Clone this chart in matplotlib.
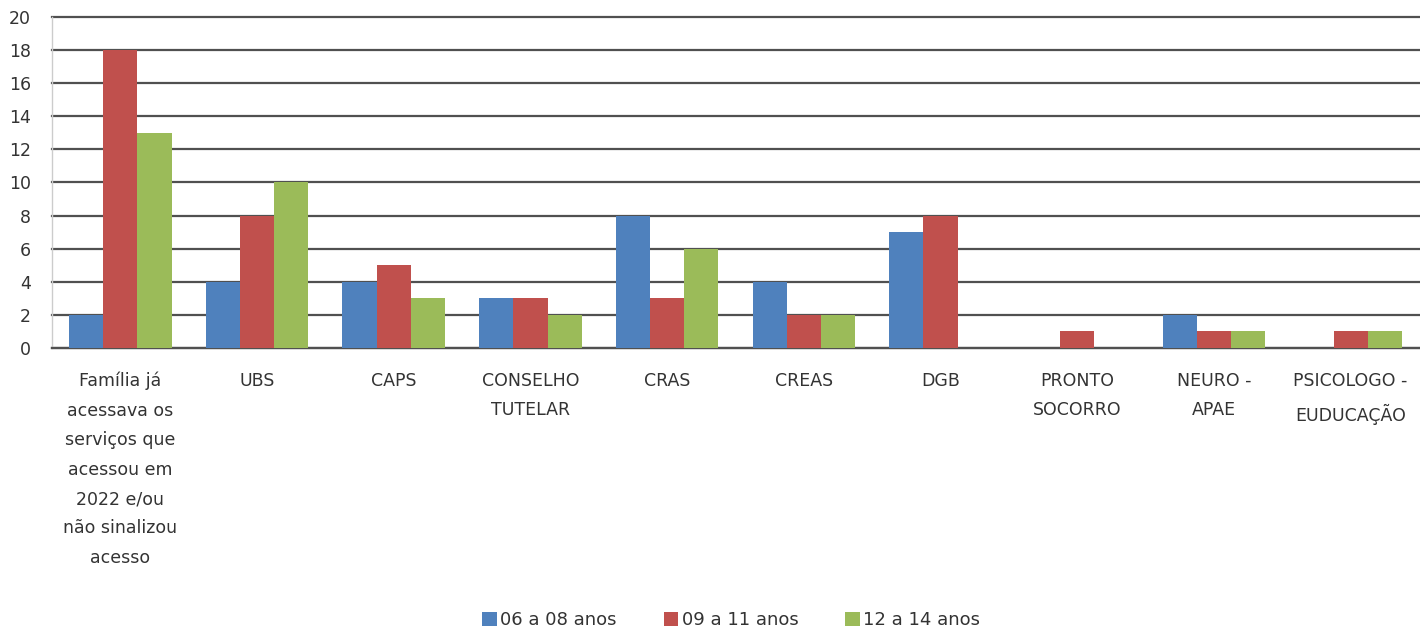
import numpy as np
import matplotlib.pyplot as plt

categorias = [
    "Família já\nacessava os\nserviços que\nacessou em\n2022 e/ou\nnão sinalizou\nacesso",
    "UBS",
    "CAPS",
    "CONSELHO\nTUTELAR",
    "CRAS",
    "CREAS",
    "DGB",
    "PRONTO\nSOCORRO",
    "NEURO -\nAPAE",
    "PSICOLOGO -\nEUDUCAÇÃO",
]
series = ["06 a 08 anos", "09 a 11 anos", "12 a 14 anos"]
v_06_08 = [2, 4, 4, 3, 8, 4, 7, 0, 2, 0]
v_09_11 = [18, 8, 5, 3, 3, 2, 8, 1, 1, 1]
v_12_14 = [13, 10, 3, 2, 6, 2, 0, 0, 1, 1]
cores = ["#4f81bd", "#c0504d", "#9bbb59"]

fig = plt.figure(figsize=(14.2, 6.28), dpi=100)
ax = fig.add_axes([0.0366, 0.4459, 0.9627, 0.527])

x = np.arange(len(categorias))
w = 0.25
for i, (vals, nome) in enumerate(zip([v_06_08, v_09_11, v_12_14], series)):
    ax.bar(x + (i - 1) * w, vals, width=w, color=cores[i], label=nome, zorder=3)

ax.set_xlim(-0.5, len(categorias) - 0.5)
ax.set_ylim(0, 20)
ax.set_yticks(range(0, 21, 2))
ax.yaxis.grid(True, color="#505050", linewidth=1.6, zorder=0)
for gl in ax.get_ygridlines():
    gl.set_clip_on(False)
ax.set_axisbelow(True)

ax.set_xticks(x)
ax.set_xticklabels(categorias, fontsize=12.5, color="#333333", linespacing=1.82, va="top")
ax.tick_params(axis="x", length=0, pad=17)
ax.tick_params(axis="y", length=0, labelsize=12.5, labelcolor="#333333", pad=15)

for s in ["top", "right"]:
    ax.spines[s].set_visible(False)
ax.spines["left"].set_color("#cccccc")
ax.spines["left"].set_linewidth(1)
ax.spines["bottom"].set_color("#505050")
ax.spines["bottom"].set_linewidth(1.6)

fig.legend(loc="lower center", bbox_to_anchor=(0.515, -0.028), ncol=3, frameon=False,
           fontsize=13, handlelength=0.8, handleheight=0.8, handletextpad=0.2,
           columnspacing=2.6, labelcolor="#333333")

fig.savefig("out.png", dpi=100)
